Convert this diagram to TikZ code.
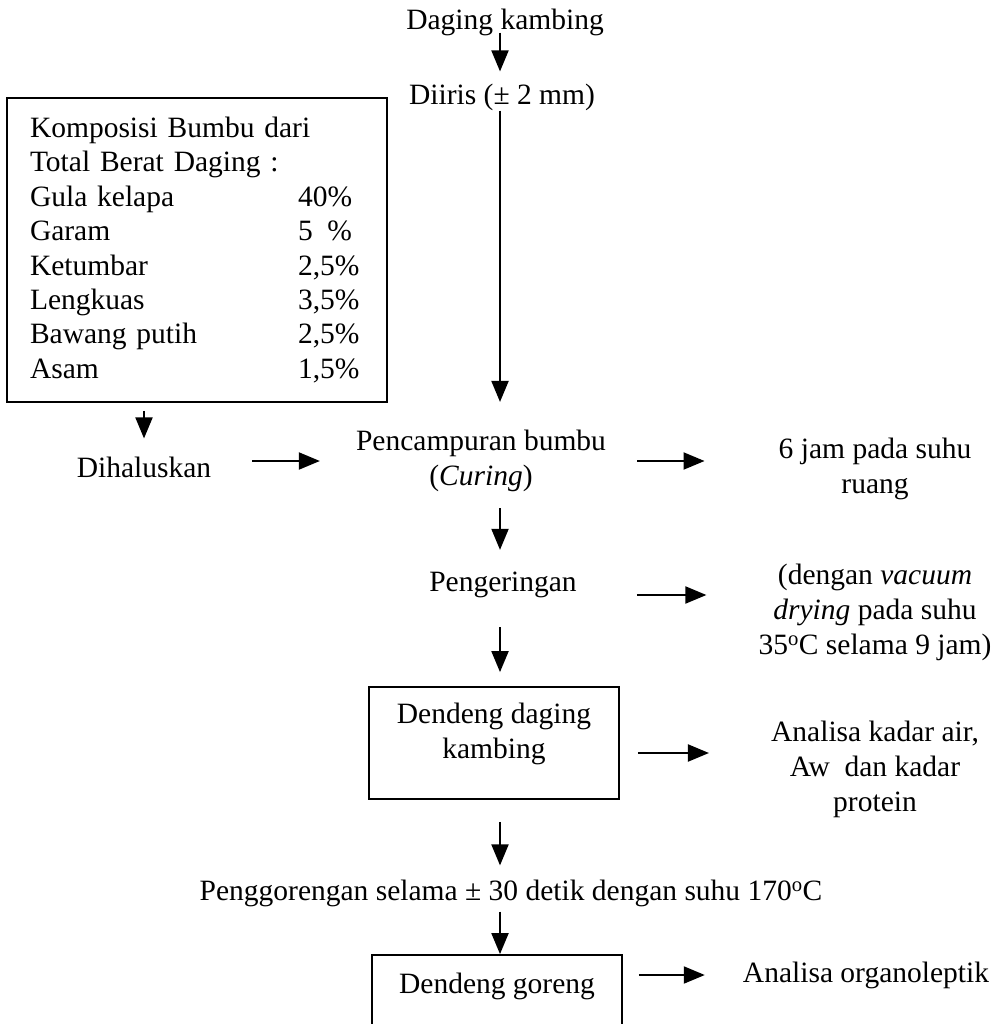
\documentclass[tikz,border=0pt]{standalone}
\usepackage{fontspec}
\setmainfont{Liberation Serif}
\usetikzlibrary{arrows.meta}
\newcommand{\diagfont}{\fontsize{29.5}{35}\selectfont}
\tikzstyle{plain} = [align=center, inner sep=0pt]
\tikzstyle{block} = [rectangle, draw, line width=1.8pt, align=center, inner sep=0pt, minimum width=250pt]
\tikzstyle{spicebox} = [rectangle, draw, line width=1.8pt, align=left, text width=334pt, inner xsep=23pt, inner ysep=0pt, minimum height=304pt, font=\fontsize{29.5}{34.4}\selectfont]
\tikzstyle{line} = [draw, line width=2pt, -{Triangle[length=21pt, width=17pt]}]

\begin{document}
\begin{tikzpicture}[x=1pt, y=-1pt, node distance=75pt, font=\diagfont]
  \fill[white] (0,0) rectangle (1003,1024);
  \useasboundingbox (0,0) rectangle (1003,1024);
  \coordinate (axis) at (500,0);
  % main column
  \node [plain] (daging) at (505,22) {Daging kambing};
  \node [plain, below of=daging, xshift=-3pt] (diiris) {Diiris (± 2 mm)};
  \node [plain, below of=diiris, node distance=364pt, xshift=-21pt] (curing) {Pencampuran bumbu\\(\textit{Curing})};
  \node [plain, below of=curing, node distance=124pt, xshift=22pt] (peng) {Pengeringan};
  \node [block, below of=peng, node distance=158pt, xshift=-9pt, minimum height=112pt, text depth=24pt] (dendeng) {Dendeng daging\\kambing};
  \node [plain, below of=dendeng, node distance=150pt, xshift=17pt] (goreng) {Penggorengan selama ± 30 detik dengan suhu 170\textsuperscript{o}C};
  \node [block, below of=goreng, node distance=102pt, xshift=-14pt, minimum height=80pt, text depth=24pt] (hasil) {Dendeng goreng};
  % side notes
  \node [spicebox] (komp) at (197,250) {Komposisi Bumbu dari\\Total Berat Daging :\\
    \makebox[268pt][l]{Gula kelapa}40\%\\
    \makebox[268pt][l]{Garam}5\enspace\%\\
    \makebox[268pt][l]{Ketumbar}2,5\%\\
    \makebox[268pt][l]{Lengkuas}3,5\%\\
    \makebox[268pt][l]{Bawang putih}2,5\%\\
    \makebox[268pt][l]{Asam}1,5\%};
  \node [plain, left of=curing, node distance=337pt, yshift=-6pt] (dihal) {Dihaluskan};
  \node [plain, right of=curing, node distance=394pt, yshift=-8pt] (suhu) {6 jam pada suhu\\ruang};
  \node [plain, right of=peng, node distance=372pt, yshift=-27pt] (vakum) {(dengan \textit{vacuum}\\\textit{drying} pada suhu\\35\textsuperscript{o}C selama 9 jam)};
  \node [plain, right of=dendeng, node distance=381pt, yshift=-26pt] (analisa) {Analisa kadar air,\\Aw\ \ dan kadar\\protein};
  \node [plain, right of=hasil, node distance=369pt, yshift=20pt] (organo) {Analisa organoleptik};
  % arrows
  \path [line, shorten <=-3pt, shorten >=12pt] (daging.south -| axis) -- (diiris.north -| axis);
  \path [line, shorten >=28pt] (diiris.south -| axis) -- (curing.north -| axis);
  \path [line, shorten <=8pt, shorten >=18pt] (komp.south -| dihal) -- (dihal.north);
  \path [line, shorten <=41pt, shorten >=36pt] (dihal.east |- curing.west) -- (curing.west);
  \path [line, shorten <=31pt, shorten >=74pt] (curing.east) -- (curing.east -| suhu.west);
  \path [line, shorten <=16pt, shorten >=22pt] (curing.south -| axis) -- (peng.north -| axis);
  \path [line, shorten <=60pt, shorten >=52pt] ([yshift=-10pt]peng.east) -- ([yshift=-10pt]peng.east -| vakum.west);
  \path [line, shorten <=29pt, shorten >=14pt] (peng.south -| axis) -- (dendeng.north -| axis);
  \path [line, shorten <=18pt, shorten >=62pt] ([yshift=-10pt]dendeng.east) -- ([yshift=-10pt]dendeng.east -| analisa.west);
  \path [line, shorten <=22pt, shorten >=14pt] (dendeng.south -| axis) -- (goreng.north -| axis);
  \path [line, shorten <=5pt] (goreng.south -| axis) -- (hasil.north -| axis);
  \path [line, shorten <=16pt, shorten >=38pt] (hasil.east |- organo.west) -- (organo.west);
\end{tikzpicture}
\end{document}
